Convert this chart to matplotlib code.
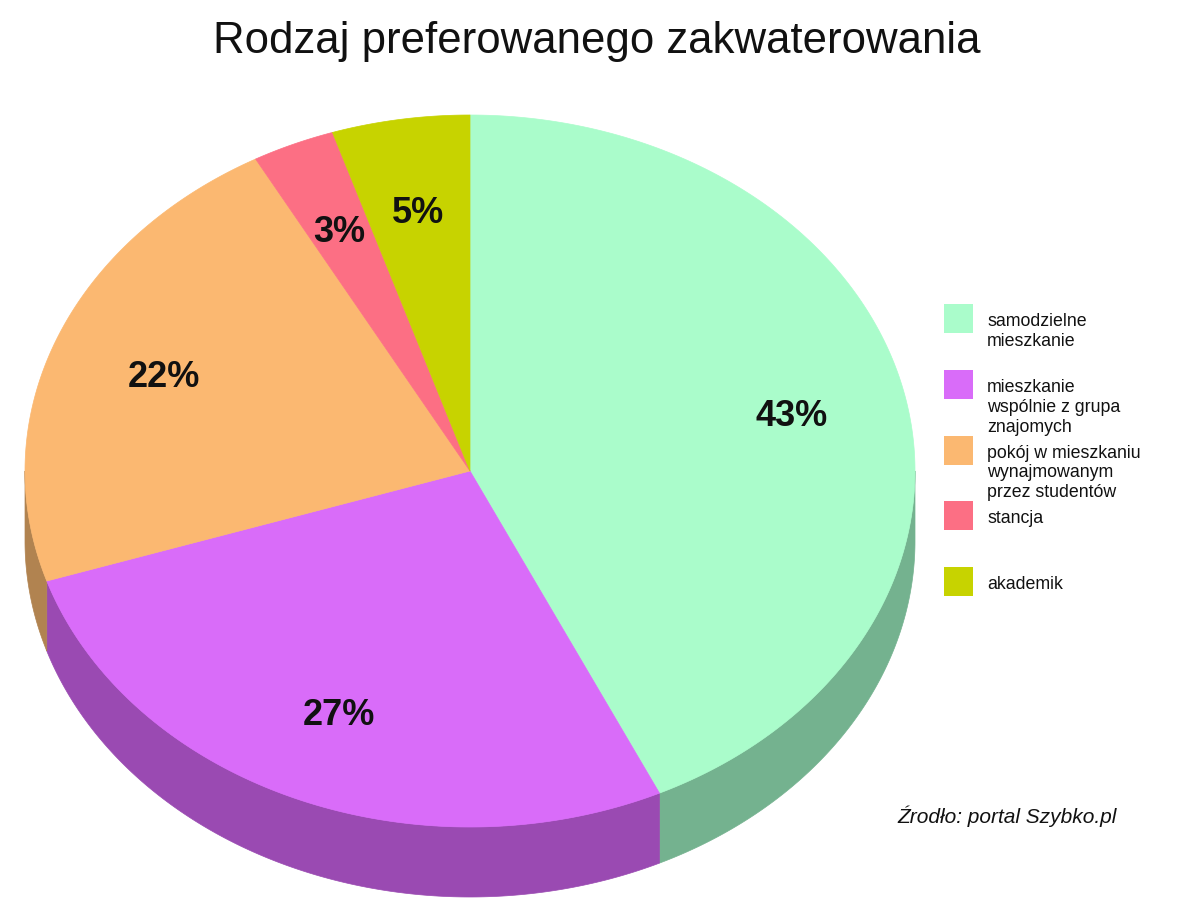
import matplotlib.pyplot as plt
from matplotlib.patches import Polygon, Rectangle
import numpy as np

plt.rcParams['font.family'] = ['Liberation Sans', 'DejaVu Sans']

TITLE = 'Rodzaj preferowanego zakwaterowania'
SOURCE = 'Źrodło: portal Szybko.pl'

labels = ['samodzielne\nmieszkanie',
          'mieszkanie\nwspólnie z grupa\nznajomych',
          'pokój w mieszkaniu\nwynajmowanym\nprzez studentów',
          'stancja',
          'akademik']
shares = [43, 27, 22, 3, 5]
top_colors = ['#aafccb', '#d96cf9', '#fbb871', '#fc6f84', '#c7d300']
side_colors = ['#74b28f', '#9a4ab2', '#b18350', '#b04e5c', '#8c9400']

# geometry of the tilted pie (pixels)
CX, CY = 470, 471
RX, RY = 445, 356
DEPTH = 70
LABEL_R = 0.74


def ellipse_pts(t0, t1, n=200):
    t = np.radians(np.linspace(t0, t1, n))
    return CX + RX * np.cos(t), CY - RY * np.sin(t)


fig = plt.figure(figsize=(11.84, 9.07), dpi=100)
ax = fig.add_axes([0, 0, 1, 1])
ax.set_xlim(0, 1184)
ax.set_ylim(907, 0)
ax.axis('off')

# angles: start at 12 o'clock, go clockwise
fracs = np.array(shares) / np.sum(shares)
starts = 90 - 360 * np.concatenate([[0], np.cumsum(fracs)[:-1]])
ends = starts - 360 * fracs

# side walls (only the front half, angles in [-180, 0])
for s, e, c in zip(starts, ends, side_colors):
    hi, lo = min(s, 0), max(e, -180)
    if hi <= lo:
        continue
    x, y = ellipse_pts(hi, lo)
    xs = np.concatenate([x, x[::-1]])
    ys = np.concatenate([y, y[::-1] + DEPTH])
    ax.add_patch(Polygon(np.column_stack([xs, ys]), closed=True,
                         facecolor=c, edgecolor=c, lw=0.5))

# top face
for s, e, c in zip(starts, ends, top_colors):
    x, y = ellipse_pts(s, e)
    xs = np.concatenate([[CX], x])
    ys = np.concatenate([[CY], y])
    ax.add_patch(Polygon(np.column_stack([xs, ys]), closed=True,
                         facecolor=c, edgecolor=c, lw=0.5))

# percentage labels
for s, e, v in zip(starts, ends, shares):
    m = np.radians((s + e) / 2)
    ax.text(CX + LABEL_R * RX * np.cos(m), CY - LABEL_R * RY * np.sin(m) + 3,
            f'{v}%', ha='center', va='center', fontsize=26,
            fontweight='bold', color='#111111')

# legend
for i, (lab, c) in enumerate(zip(labels, top_colors)):
    y0 = 304 + i * 65.8
    ax.add_patch(Rectangle((944, y0), 29, 29, facecolor=c, edgecolor='none'))
    ax.text(987, y0 + 9, lab, ha='left', va='top', fontsize=12.8,
            linespacing=1.22, color='#111111')

ax.text(597, 42, TITLE, ha='center', va='center', fontsize=31.5, color='#111111')
ax.text(1117, 816, SOURCE, ha='right', va='center', fontsize=15,
        style='italic', color='#111111')

plt.savefig('out.png', dpi=100)
